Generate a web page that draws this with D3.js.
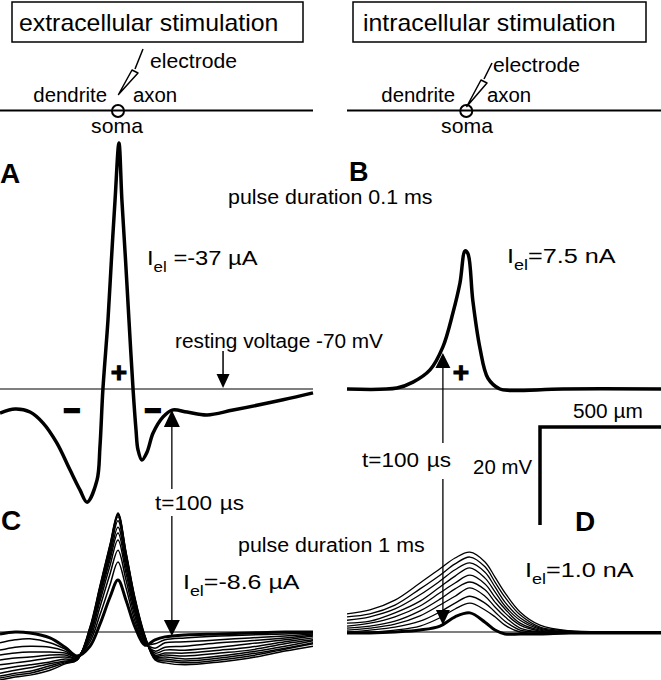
<!DOCTYPE html>
<html><head><meta charset="utf-8">
<script src="https://cdn.jsdelivr.net/npm/d3@7"></script>
<style>
body{margin:0;background:#fff}
svg{display:block}
text{font-family:"Liberation Sans",Arial,sans-serif;fill:#000}
</style>
</head><body>
<svg id="fig" width="661" height="680"></svg>
<script>
// ---------- DATA (x: distance along neuron from soma, µm; dV: voltage minus rest, mV) ----------
const restLabel = "resting voltage -70 mV";
const headers = ["extracellular stimulation", "intracellular stimulation"];
const panelLabels = ["A", "B", "C", "D"];
const currents = [" =-37 µA", "=7.5 nA", "=-8.6 µA", "=1.0 nA"];
const pulseLabels = ["pulse duration 0.1 ms", "pulse duration 1 ms"];
const timeLabel = ["t=100", "µs"];
const scaleLabels = ["500 µm", "20 mV"];
const scaleValues = [500, 20];

// Panel A: extracellular, 0.1 ms pulse
const aX  = [-484,-422,-361,-308,-251,-197,-156,-127,-86,-74,-62,-41,-27,-12,4,16,31,45,62,74,82,98,119,144,185,222,283,365,472,677,800];
const aDV = [-4.9,-4.1,-4.7,-6.9,-11.0,-16.5,-20.6,-23.1,-18.6,-11.8,-0.2,14.1,26.3,38.6,50.2,38.6,26.3,14.1,-0.2,-8.4,-12.4,-14.5,-12.9,-9.0,-5.7,-4.3,-4.7,-5.3,-4.3,-2.2,-0.8];

// Panel B: intracellular, 0.1 ms pulse
const bX  = [-490,-285,-219,-149,-96,-55,-26,-5,7,27,56,89,138,180,397,800];
const bDV = [0,0.2,1.4,3.9,8.6,15.5,21.6,28.2,27.6,18.0,8.4,2.2,0,-0.3,0,0];

// Panel C: extracellular, 1 ms pulse (family of traces; bold one drawn last)
const cX = [-484,-422,-361,-279,-217,-168,-115,-74,-33,0,33,70,111,152,193,275,418,541,685,800];
const cBold = [-0.4,0,-0.2,-1.2,-3.1,-4.9,-2.9,1.6,7.1,10.6,6.5,1.0,-2.7,-1.6,-1.0,-0.6,-0.4,-0.2,0,0];
const c1  = [-2.2,-1.6,-1.4,-2.2,-3.5,-4.9,-2.0,3.5,9.6,14.3,9.0,2.2,-2.4,-2.4,-1.6,-1.2,-0.8,-0.6,-0.4,-0.2];
const c2  = [-3.7,-3.1,-2.9,-3.1,-3.9,-5.1,-1.4,5.1,11.8,16.7,10.6,3.1,-2.2,-3.3,-2.2,-2.0,-1.6,-1.2,-0.8,-0.4];
const c3  = [-4.7,-4.3,-4.1,-4.1,-4.3,-5.1,-0.8,6.3,13.5,18.8,12.0,3.9,-2.0,-3.9,-3.1,-2.9,-2.2,-1.8,-1.2,-0.6];
const c4  = [-5.7,-5.3,-5.1,-4.7,-4.7,-5.3,-0.4,7.1,14.7,20.2,13.1,4.5,-1.8,-4.3,-3.7,-3.7,-3.1,-2.4,-1.6,-0.8];
const c5  = [-6.7,-6.3,-5.9,-5.3,-5.1,-5.3,0,7.8,15.5,21.4,14.1,5.1,-1.6,-4.7,-4.3,-4.3,-3.7,-3.1,-2.0,-1.2];
const c6  = [-7.6,-7.1,-6.7,-6.1,-5.5,-5.5,0.2,8.2,16.3,22.7,14.9,5.7,-1.4,-4.9,-4.7,-4.9,-4.3,-3.7,-2.4,-1.6];
const c7  = [-8.4,-7.8,-7.3,-6.5,-5.9,-5.5,0.4,8.6,16.9,23.5,15.5,6.1,-1.2,-5.1,-5.1,-5.5,-4.9,-4.1,-2.9,-1.8];
const c8  = [-9.0,-8.4,-8.0,-6.9,-6.1,-5.7,0.6,9.0,17.3,23.9,15.9,6.5,-1.0,-5.3,-5.5,-5.9,-5.3,-4.5,-3.3,-2.2];
const c9  = [-9.4,-8.8,-8.4,-7.3,-6.3,-5.7,0.8,9.2,17.6,24.1,16.1,6.7,-1.0,-5.5,-5.9,-6.3,-5.7,-4.9,-3.5,-2.4];
const c10 = [-9.8,-9.2,-8.8,-7.8,-6.5,-5.7,1.0,9.4,17.8,24.3,16.3,6.9,-0.8,-5.7,-6.3,-6.7,-6.1,-5.3,-3.9,-2.9];

// Panel D: intracellular, 1 ms pulse (family; bold one drawn last)
const dX = [-490,-396,-293,-190,-108,-46,15,77,118,159,221,303,426,590,800];
const dv0 = [3.7,4.5,6.5,10.0,12.9,15.1,16.3,14.3,11.2,8.0,4.1,1.4,0.2,0,0];
const dv1 = [3.1,3.7,5.5,8.8,11.6,13.9,15.3,13.3,10.2,7.1,3.5,1.0,0.2,0,0];
const dv2 = [2.4,3.1,4.7,7.6,10.4,12.7,14.1,12.2,9.2,6.1,2.9,0.8,0,0,0];
const dv3 = [1.8,2.2,3.9,6.3,9.2,11.4,13.1,11.0,8.2,5.3,2.4,0.6,0,0,0];
const dv4 = [1.2,1.8,3.1,5.3,8.0,10.0,11.6,9.8,7.1,4.7,1.8,0.4,0,0,0];
const dv5 = [0.8,1.2,2.2,4.3,6.7,8.8,10.2,8.6,6.1,3.9,1.4,0.2,-0.2,0,0];
const dv6 = [0.4,0.8,1.6,3.3,5.5,7.3,9.0,7.3,5.1,3.1,0.8,0,-0.2,0,0];
const dv7 = [0,0.4,1.0,2.2,4.1,5.9,7.3,5.9,4.1,2.2,0.4,0,-0.2,0,0];
const dv8 = [-0.2,0,0.4,1.2,2.9,4.7,5.9,4.5,3.1,1.4,0,-0.2,-0.2,0,0];
const dvBold = [-0.2,-0.2,0,0.4,1.2,3.1,3.9,2.0,0.4,-0.4,-0.4,-0.4,-0.2,-0.2,-0.2];

// annotation positions (µm)
const tArrowA = 221, tArrowB = -96, restArrowX = 431;

// ---------- SCALES ----------
const svg = d3.select("#fig");
const xL = d3.scaleLinear().domain([-484, 800]).range([0, 313]);
const xR = d3.scaleLinear().domain([-490, 800]).range([347, 661]);
const yTop = d3.scaleLinear().domain([0, 20]).range([389, 291]);
const yBot = d3.scaleLinear().domain([0, 20]).range([632, 534]);

function trace(xs, ys, xs_, ys_, w) {
  const pts = xs.map((x, i) => [x, ys[i]]);
  const line = d3.line().x(d => xs_(d[0])).y(d => ys_(d[1])).curve(d3.curveCatmullRom.alpha(0.5));
  svg.append("path").attr("d", line(pts)).attr("fill", "none").attr("stroke", "#000")
    .attr("stroke-width", w).attr("stroke-linejoin", "round").attr("stroke-linecap", "butt");
}
function hline(xs_, ys_) {
  const r = xs_.range();
  svg.append("line").attr("x1", r[0]).attr("x2", r[1]).attr("y1", ys_(0)).attr("y2", ys_(0))
    .attr("stroke", "#000").attr("stroke-width", 1.2);
}
function txt(x, y, s, size, opts = {}) {
  const sx = opts.sx || 1;
  const t = svg.append("text").attr("transform", `translate(${x},${y}) scale(${sx},1)`)
    .attr("font-size", size).text(s);
  if (opts.bold) t.attr("font-weight", "bold");
  if (opts.anchor) t.attr("text-anchor", opts.anchor);
  return t;
}
function iel(x, y, rest, sx) {
  const t = svg.append("text").attr("transform", `translate(${x},${y}) scale(${sx},1)`).attr("font-size", 21);
  t.append("tspan").text("I");
  t.append("tspan").attr("font-size", 15).attr("dy", 7).text("el");
  t.append("tspan").attr("dy", -7).text(rest);
}
function tlabel(x, y) {
  const t = svg.append("text").attr("transform", `translate(${x},${y}) scale(1.1,1)`).attr("font-size", 20.5);
  t.append("tspan").text(timeLabel[0]);
  t.append("tspan").attr("dx", 7).text(timeLabel[1]);
}
function head(x, tipY, baseY, hw) {
  svg.append("path").attr("d", `M${x},${tipY}L${x - hw},${baseY}L${x + hw},${baseY}Z`).attr("fill", "#000");
}
function vline(x, y1, y2, w) {
  svg.append("line").attr("x1", x).attr("x2", x).attr("y1", y1).attr("y2", y2)
    .attr("stroke", "#000").attr("stroke-width", w || 1.3);
}

// ---------- HEADERS ----------
svg.append("rect").attr("x", 12).attr("y", 2).attr("width", 291).attr("height", 40)
  .attr("fill", "none").attr("stroke", "#000").attr("stroke-width", 1.5);
txt(19, 31, headers[0], 23, {sx: 1.08});
svg.append("rect").attr("x", 353).attr("y", 2).attr("width", 293).attr("height", 40)
  .attr("fill", "none").attr("stroke", "#000").attr("stroke-width", 1.5);
txt(363, 31, headers[1], 23, {sx: 1.08});

// ---------- NEURON DIAGRAMS ----------
function neuron(xs_, tipDy, eTop, eMid) {
  const r = xs_.range(), sx = xs_(0), sy = 110.5;
  svg.append("line").attr("x1", r[0]).attr("x2", r[1]).attr("y1", sy).attr("y2", sy)
    .attr("stroke", "#000").attr("stroke-width", 2);
  svg.append("circle").attr("cx", sx).attr("cy", sy + 0.5).attr("r", 6).attr("fill", "none")
    .attr("stroke", "#000").attr("stroke-width", 2);
  svg.append("line").attr("x1", eTop[0]).attr("y1", eTop[1]).attr("x2", eMid[0]).attr("y2", eMid[1])
    .attr("stroke", "#000").attr("stroke-width", 1.5);
  svg.append("path").attr("d", `M${eMid[0] - 3},${eMid[1] + 1}L${eMid[0] + 3},${eMid[1] + 4}L${sx + 0.5},${sy + tipDy}Z`)
    .attr("fill", "#fff").attr("stroke", "#000").attr("stroke-width", 1.5).attr("stroke-linejoin", "round");
}
neuron(xL, -16, [143, 49], [135, 69]);
neuron(xR, -4, [492, 63], [484, 79]);
txt(107, 102, "dendrite", 20, {anchor: "end", sx: 1.02});
txt(133, 102, "axon", 20, {sx: 1.02});
txt(117, 133, "soma", 20, {anchor: "middle", sx: 1.06});
txt(150, 68, "electrode", 20, {sx: 1.06});
txt(455, 102, "dendrite", 20, {anchor: "end", sx: 1.02});
txt(487, 102, "axon", 20, {sx: 1.02});
txt(467, 133, "soma", 20, {anchor: "middle", sx: 1.06});
txt(493, 72, "electrode", 20, {sx: 1.06});

// ---------- PANEL A / B ----------
hline(xL, yTop);
hline(xR, yTop);
trace(aX, aDV, xL, yTop, 3.5);
trace(bX, bDV, xR, yTop, 3.5);

txt(0, 183, panelLabels[0], 28, {bold: true});
txt(349, 181, panelLabels[1], 27, {bold: true});
txt(228, 204, pulseLabels[0], 20, {sx: 1.07});
iel(147, 265, currents[0], 1.13);
iel(507, 263, currents[1], 1.2);
txt(175, 348, restLabel, 20, {sx: 1.04});

vline(xL(restArrowX), 351, 375, 1.5);
head(xL(restArrowX), 388, 374, 6.5);

txt(119, 382, "+", 28, {bold: true, anchor: "middle"}).attr("stroke", "#000").attr("stroke-width", 1);
txt(461, 382, "+", 28, {bold: true, anchor: "middle"}).attr("stroke", "#000").attr("stroke-width", 1);
txt(72, 420, "\u2212", 28, {bold: true, anchor: "middle"}).attr("stroke", "#000").attr("stroke-width", 2.2);
txt(153, 420, "\u2212", 28, {bold: true, anchor: "middle"}).attr("stroke", "#000").attr("stroke-width", 2.2);

// ---------- PANEL C / D ----------
hline(xL, yBot);
hline(xR, yBot);
[c10, c9, c8, c7, c6, c5, c4, c3, c2, c1].forEach(c => trace(cX, c, xL, yBot, 1.5));
trace(cX, cBold, xL, yBot, 3);
[dv0, dv1, dv2, dv3, dv4, dv5, dv6, dv7, dv8].forEach(d => trace(dX, d, xR, yBot, 1.3));
trace(dX, dvBold, xR, yBot, 3);

txt(1, 530, panelLabels[2], 28, {bold: true});
txt(575, 531, panelLabels[3], 28, {bold: true});
txt(238, 552, pulseLabels[1], 20, {sx: 1.07});
iel(183, 589, currents[2], 1.19);
iel(525, 577, currents[3], 1.2);

const ax = xL(tArrowA);
vline(ax, 426, 489);
vline(ax, 516, 621);
head(ax, 410, 427, 8);
head(ax, 636, 620, 8);
tlabel(155, 510);

const bx = xR(tArrowB);
vline(bx, 367, 443);
vline(bx, 479, 611);
head(bx, 353, 368, 7.5);
head(bx, 625, 610, 7);
tlabel(362, 467);

// ---------- SCALE BAR ----------
const sbX = 540, sbY = 427;
const sbW = xR(scaleValues[0]) - xR(0);
const sbH = yBot(0) - yBot(scaleValues[1]);
svg.append("path").attr("d", `M${sbX + sbW},${sbY}H${sbX}V${sbY + sbH}`)
  .attr("fill", "none").attr("stroke", "#000").attr("stroke-width", 3.5);
txt(573, 418, scaleLabels[0], 20, {sx: 1.04});
txt(532, 474, scaleLabels[1], 20, {anchor: "end", sx: 1.02});
</script>
</body></html>
